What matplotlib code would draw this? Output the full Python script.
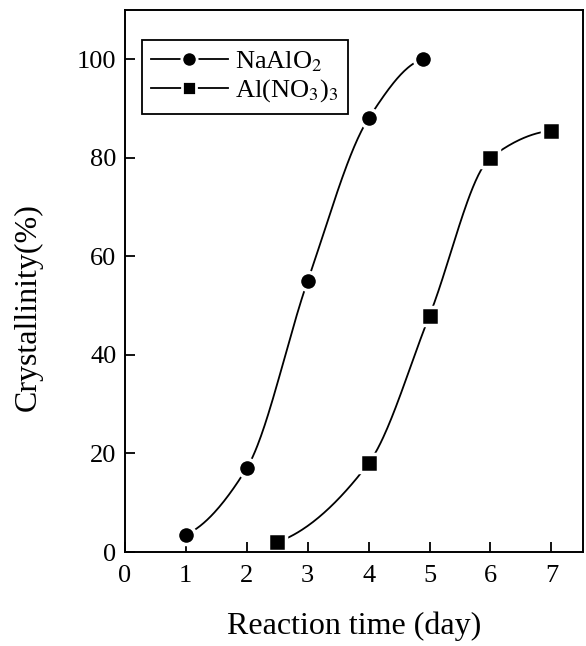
import numpy as np
import matplotlib.pyplot as plt

# data
na_days = [1, 2, 3, 4, 4.9]
na_cryst = [3.5, 17, 55, 88, 100]
al_days = [2.5, 4, 5, 6, 7]
al_cryst = [2, 18, 48, 80, 85.5]

plt.rcParams['font.family'] = ['Liberation Serif', 'DejaVu Serif']
plt.rcParams['mathtext.fontset'] = 'stix'


def smooth(x, y, n=200):
    # monotone cubic hermite (Fritsch-Carlson) through the points
    x = np.asarray(x, float)
    y = np.asarray(y, float)
    h = np.diff(x)
    d = np.diff(y) / h
    m = np.zeros_like(y)
    for i in range(1, len(x) - 1):
        if d[i - 1] * d[i] <= 0:
            m[i] = 0
        else:
            w1 = 2 * h[i] + h[i - 1]
            w2 = h[i] + 2 * h[i - 1]
            m[i] = (w1 + w2) / (w1 / d[i - 1] + w2 / d[i])
    # flatten ends a bit so the curves look sigmoidal
    m[0] = d[0] * 0.4
    m[-1] = d[-1] * 0.2
    xs = np.linspace(x[0], x[-1], n)
    idx = np.clip(np.searchsorted(x, xs) - 1, 0, len(x) - 2)
    t = (xs - x[idx]) / h[idx]
    h00 = 2 * t**3 - 3 * t**2 + 1
    h10 = t**3 - 2 * t**2 + t
    h01 = -2 * t**3 + 3 * t**2
    h11 = t**3 - t**2
    ys = h00 * y[idx] + h10 * h[idx] * m[idx] + h01 * y[idx + 1] + h11 * h[idx] * m[idx + 1]
    return xs, ys


fig = plt.figure(figsize=(5.86, 6.46), dpi=100)
ax = fig.add_axes([0.213, 0.1455, 0.782, 0.839])

xs, ys = smooth(na_days, na_cryst)
ax.plot(xs, ys, color='black', lw=1.3)
xs, ys = smooth(al_days, al_cryst)
ax.plot(xs, ys, color='black', lw=1.3)

# white edge leaves the small gap between curve and marker
ax.plot(na_days, na_cryst, 'o', color='black', ms=13, mec='white', mew=2.5)
ax.plot(al_days, al_cryst, 's', color='black', ms=12.5, mec='white', mew=2.5)

# legend handles: line-marker-line
h1, = ax.plot([], [], '-o', color='black', ms=11, lw=1.3, mec='white', mew=2)
h2, = ax.plot([], [], '-s', color='black', ms=10, lw=1.3, mec='white', mew=2)
leg = ax.legend([h1, h2], ['NaAlO$_2$', 'Al(NO$_3$)$_3$'], loc='upper left',
                bbox_to_anchor=(0.037, 0.945), fontsize=19, fancybox=False,
                edgecolor='black', framealpha=1, handlelength=2.9,
                handletextpad=0.3, borderpad=0.35, labelspacing=0.15,
                borderaxespad=0)
leg.get_frame().set_linewidth(1.3)

ax.set_xlim(0, 7.52)
ax.set_ylim(0, 110)
ax.set_xticks(range(0, 8))
ax.set_yticks(range(0, 101, 20))
ax.tick_params(direction='in', length=7, width=1.3, labelsize=19, pad=6)
ax.tick_params(axis='x', pad=9)
for s in ax.spines.values():
    s.set_linewidth(1.4)

ax.set_xlabel('Reaction time (day)', fontsize=23, labelpad=18)
ax.set_ylabel('Crystallinity(%)', fontsize=23)
ax.yaxis.set_label_coords(-0.179, 0.452)

fig.savefig('out.png', dpi=100)
